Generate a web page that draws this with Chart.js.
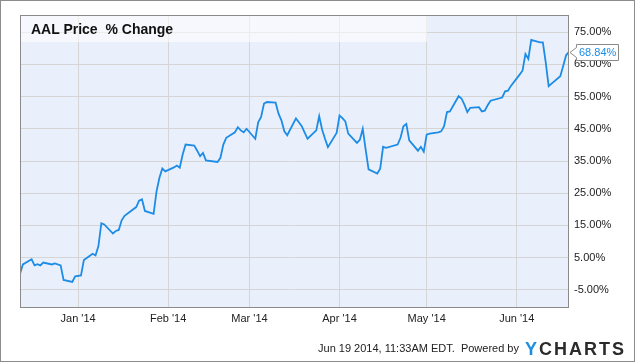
<!DOCTYPE html>
<html>
<head>
<meta charset="utf-8">
<script src="https://cdn.jsdelivr.net/npm/chart.js@4.4.1/dist/chart.umd.min.js"></script>
<style>
    html, body { margin: 0; padding: 0; background: #fff; }
    #wrap {
        position: relative; width: 635px; height: 362px; overflow: hidden;
        font-family: "Liberation Sans", Arial, sans-serif;
    }
    #frame {
        position: absolute; left: 0; top: 0; width: 633px; height: 360px;
        border: 1px solid #8c8c8c; pointer-events: none;
    }
    #title {
        position: absolute; left: 31px; top: 21px; font-size: 14px; font-weight: bold;
        color: #111; white-space: pre;
    }
    #stamp {
        position: absolute; right: 116px; top: 342px; font-size: 11px; color: #222; white-space: pre;
    }
    #logo {
        position: absolute; left: 525px; top: 339px; font-size: 18px; font-weight: bold;
        letter-spacing: 2px; color: #2b2b2b;
    }
    #logo span { color: #1c8fe3; }
</style>
</head>
<body>
<div id="wrap">
    <canvas id="priceChart" width="635" height="362"></canvas>
    <div id="title">AAL Price  % Change</div>
    <div id="stamp">Jun 19 2014, 11:33AM EDT.  Powered by</div>
    <div id="logo"><span>Y</span>CHARTS</div>
    <div id="frame"></div>
</div>
<script>
// Pregões (datas) e variação % acumulada do AAL
const dates = [
    "2013-12-12", "2013-12-13", "2013-12-16", "2013-12-17", "2013-12-18", "2013-12-19", "2013-12-20",
    "2013-12-23", "2013-12-24", "2013-12-26", "2013-12-27", "2013-12-30", "2013-12-31",
    "2014-01-02", "2014-01-03", "2014-01-06", "2014-01-07", "2014-01-08", "2014-01-09", "2014-01-10",
    "2014-01-13", "2014-01-14", "2014-01-15", "2014-01-16", "2014-01-17", "2014-01-21", "2014-01-22",
    "2014-01-23", "2014-01-24", "2014-01-27", "2014-01-28", "2014-01-29", "2014-01-30", "2014-01-31",
    "2014-02-03", "2014-02-04", "2014-02-05", "2014-02-06", "2014-02-07", "2014-02-10", "2014-02-11",
    "2014-02-12", "2014-02-13", "2014-02-14", "2014-02-18", "2014-02-19", "2014-02-20", "2014-02-21",
    "2014-02-24", "2014-02-25", "2014-02-26", "2014-02-27", "2014-02-28",
    "2014-03-03", "2014-03-04", "2014-03-05", "2014-03-06", "2014-03-07", "2014-03-10", "2014-03-11",
    "2014-03-12", "2014-03-13", "2014-03-14", "2014-03-17", "2014-03-18", "2014-03-19", "2014-03-20",
    "2014-03-21", "2014-03-24", "2014-03-25", "2014-03-26", "2014-03-27", "2014-03-28", "2014-03-31",
    "2014-04-01", "2014-04-02", "2014-04-03", "2014-04-04", "2014-04-07", "2014-04-08", "2014-04-09",
    "2014-04-10", "2014-04-11", "2014-04-14", "2014-04-15", "2014-04-16", "2014-04-17", "2014-04-21",
    "2014-04-22", "2014-04-23", "2014-04-24", "2014-04-25", "2014-04-28", "2014-04-29", "2014-04-30",
    "2014-05-01", "2014-05-02", "2014-05-05", "2014-05-06", "2014-05-07", "2014-05-08", "2014-05-09",
    "2014-05-12", "2014-05-13", "2014-05-14", "2014-05-15", "2014-05-16", "2014-05-19", "2014-05-20",
    "2014-05-21", "2014-05-22", "2014-05-23", "2014-05-27", "2014-05-28", "2014-05-29", "2014-05-30",
    "2014-06-02", "2014-06-03", "2014-06-04", "2014-06-05", "2014-06-06", "2014-06-09", "2014-06-10",
    "2014-06-11", "2014-06-12", "2014-06-13", "2014-06-16", "2014-06-17", "2014-06-18", "2014-06-19"
];

const pctChange = [
    0.0, 2.9, 4.5, 2.6, 3.0, 2.6, 3.5,
    2.9, 3.2, 2.6, -1.9, -2.5, -0.8,
    -0.5, 4.3, 6.2, 5.7, 8.6, 15.7, 15.3,
    12.5, 13.3, 13.6, 16.6, 18.0, 20.7, 22.7,
    23.1, 19.5, 18.6, 25.6, 29.8, 32.7, 31.8,
    33.0, 33.6, 32.9, 37.0, 40.1, 39.8, 38.2,
    36.5, 37.5, 35.2, 34.7, 36.0, 40.1, 42.2,
    43.9, 45.5, 44.5, 43.9, 45.0,
    41.9, 47.0, 48.7, 52.8, 53.3, 53.1, 49.7,
    47.6, 44.2, 43.0, 48.2, 47.0, 45.8, 43.8,
    41.9, 44.5, 48.9, 44.8, 41.9, 39.3, 43.7,
    49.1, 48.3, 47.3, 43.5, 40.6, 41.6, 45.0,
    38.5, 32.4, 31.1, 32.6, 39.4, 39.1, 40.1,
    42.2, 45.8, 46.5, 41.4, 38.2, 39.4, 37.9,
    43.2, 43.5, 43.9, 44.2, 45.8, 50.2, 50.4,
    55.1, 54.4, 52.5, 50.2, 51.5, 51.7, 50.4,
    50.6, 52.3, 53.7, 54.7, 56.6, 56.8, 58.3,
    61.8, 63.0, 68.2, 66.7, 72.6, 71.8, 71.8,
    65.5, 58.2, 59.0, 61.3, 64.5, 67.8, 68.84
];

// Eixo X: início de cada mês
const monthStarts = ["2014-01-01", "2014-02-01", "2014-03-01", "2014-04-01", "2014-05-01", "2014-06-01"];
const monthLabels = ["Jan '14", "Feb '14", "Mar '14", "Apr '14", "May '14", "Jun '14"];

// Eixo Y
const yTicks = [-5, 5, 15, 25, 35, 45, 55, 65, 75];

const FONT = '"Liberation Sans", Arial, sans-serif';
const LINE_COLOR = "#1c8ce6";

// dias desde 01/01/2014
function dayNum(s) {
    const [y, m, d] = s.split("-").map(Number);
    return (Date.UTC(y, m - 1, d) - Date.UTC(2014, 0, 1)) / 86400000;
}

const points = dates.map((d, i) => ({ x: dayNum(d), y: pctChange[i] }));

const decorPlugin = {
    id: "decor",
    beforeDraw(chart) {
        const { ctx, chartArea: a } = chart;
        ctx.save();
        ctx.fillStyle = "#fff";
        ctx.fillRect(0, 0, chart.width, chart.height);
        ctx.fillStyle = "#eaf0fb";
        ctx.fillRect(a.left, a.top, a.right - a.left, a.bottom - a.top);
        ctx.restore();
    },
    beforeDatasetsDraw(chart) {
        // faixa clara atrás do título
        const { ctx, chartArea: a } = chart;
        ctx.save();
        ctx.fillStyle = "rgba(255,255,255,0.55)";
        ctx.fillRect(a.left, a.top, 407, 27);
        ctx.restore();
    },
    afterDraw(chart) {
        const { ctx, chartArea: a } = chart;
        ctx.save();
        ctx.strokeStyle = "#8a8a8a";
        ctx.lineWidth = 1;
        ctx.strokeRect(a.left + 0.5, a.top + 0.5, a.right - a.left - 1, a.bottom - a.top);

        // etiqueta do último valor
        const meta = chart.getDatasetMeta(0);
        const last = meta.data[meta.data.length - 1];
        const x = Math.round(last.x), y = Math.round(last.y) + 0.5;
        ctx.beginPath();
        ctx.moveTo(x + 1, y);
        ctx.lineTo(x + 7.5, y - 5);
        ctx.lineTo(x + 7.5, y - 8);
        ctx.lineTo(x + 49.5, y - 8);
        ctx.lineTo(x + 49.5, y + 8);
        ctx.lineTo(x + 7.5, y + 8);
        ctx.lineTo(x + 7.5, y + 5);
        ctx.closePath();
        ctx.fillStyle = "#fff";
        ctx.fill();
        ctx.strokeStyle = "#8a8a8a";
        ctx.stroke();
        ctx.fillStyle = LINE_COLOR;
        ctx.font = "11px " + FONT;
        ctx.textBaseline = "middle";
        ctx.fillText(pctChange[pctChange.length - 1].toFixed(2) + "%", x + 10, y + 0.5);
        ctx.restore();
    }
};

const chart = new Chart(document.getElementById("priceChart"), {
    type: "line",
    data: {
        datasets: [{
            label: "AAL Price % Change",
            data: points,
            borderColor: LINE_COLOR,
            borderWidth: 1.8,
            pointRadius: 0,
            tension: 0,
            fill: false
        }]
    },
    options: {
        responsive: false,
        animation: false,
        layout: { padding: { left: 20, top: 15, right: 0, bottom: 0 } },
        plugins: {
            legend: { display: false },
            tooltip: { enabled: false }
        },
        scales: {
            x: {
                type: "linear",
                min: dayNum(dates[0]),
                max: dayNum(dates[dates.length - 1]),
                afterBuildTicks: s => { s.ticks = monthStarts.map(d => ({ value: dayNum(d) })); },
                afterFit: s => { s.height = 55; },
                ticks: {
                    autoSkip: false,
                    maxRotation: 0,
                    padding: 5,
                    color: "#222",
                    font: { family: FONT, size: 11 },
                    callback: (v, i) => monthLabels[i]
                },
                grid: { color: "#d5d5d5", drawTicks: false },
                border: { display: false }
            },
            y: {
                position: "right",
                min: -10.3,
                max: 80.3,
                afterBuildTicks: s => { s.ticks = yTicks.map(v => ({ value: v })); },
                afterFit: s => { s.width = 66; },
                ticks: {
                    padding: 5,
                    color: "#222",
                    font: { family: FONT, size: 11 },
                    callback: v => v.toFixed(2) + "%"
                },
                grid: { color: "#d5d5d5", drawTicks: false },
                border: { display: false }
            }
        }
    },
    plugins: [decorPlugin]
});
</script>
</body>
</html>
